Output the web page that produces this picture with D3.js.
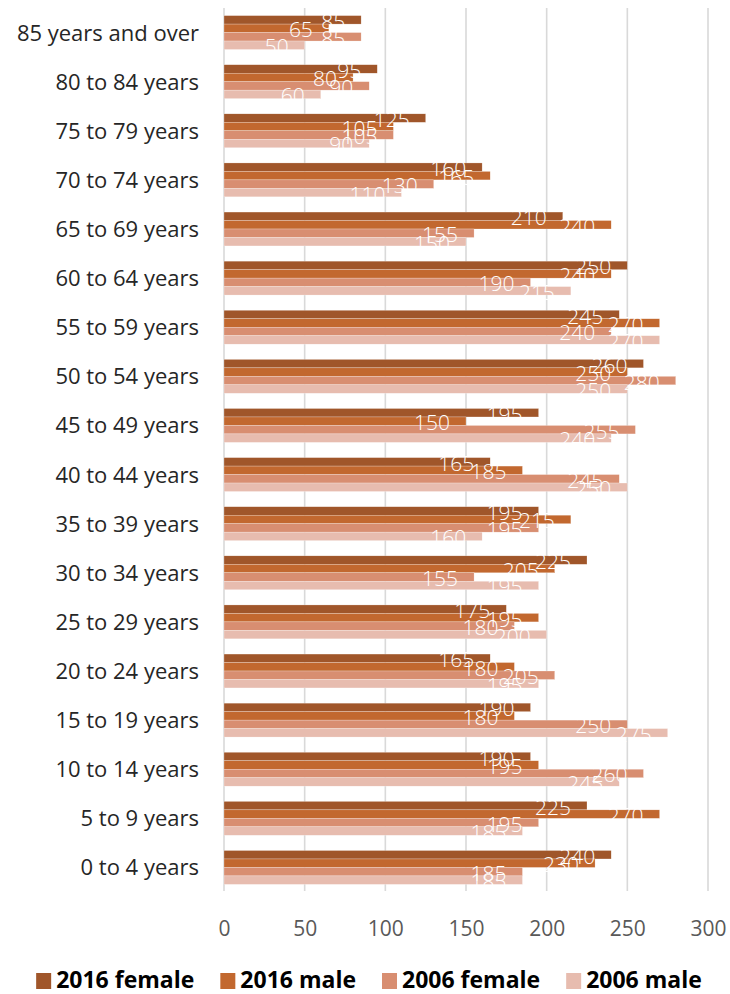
<!DOCTYPE html>
<html>
<head>
<meta charset="utf-8">
<script src="https://cdn.jsdelivr.net/npm/d3@7"></script>
<style>
  body { margin: 0; background: #ffffff; }
  svg { display: block; font-family: "Open Sans", "Noto Sans", sans-serif; }
</style>
</head>
<body>
<div class="chart"></div>
<script>
var w = 730;
var h = 994;

// age groups, top to bottom
var ages = ["85 years and over", "80 to 84 years", "75 to 79 years", "70 to 74 years",
  "65 to 69 years", "60 to 64 years", "55 to 59 years", "50 to 54 years",
  "45 to 49 years", "40 to 44 years", "35 to 39 years", "30 to 34 years",
  "25 to 29 years", "20 to 24 years", "15 to 19 years", "10 to 14 years",
  "5 to 9 years", "0 to 4 years"];

var seriesNames = ["2016 female", "2016 male", "2006 female", "2006 male"];
var seriesColors = ["#a0562a", "#c2682f", "#d88e71", "#e7bcaf"];

var female2016 = [85, 95, 125, 160, 210, 250, 245, 260, 195, 165, 195, 225, 175, 165, 190, 190, 225, 240];
var male2016   = [65, 80, 105, 165, 240, 240, 270, 250, 150, 185, 215, 205, 195, 180, 180, 195, 270, 230];
var female2006 = [85, 90, 105, 130, 155, 190, 240, 280, 255, 245, 195, 155, 180, 205, 250, 260, 195, 185];
var male2006   = [50, 60, 90, 110, 150, 215, 270, 250, 240, 250, 160, 195, 200, 195, 275, 245, 185, 185];

var xTicks = [0, 50, 100, 150, 200, 250, 300];

var seriesValues = [female2016, male2016, female2006, male2006];

var svg = d3.select(".chart")
  .append("svg")
  .attr("width", w)
  .attr("height", h);

var x = d3.scaleLinear()
  .domain([0, 300])
  .range([224, 708]);

var y0 = d3.scaleBand()
  .domain(ages)
  .range([8, 892])
  .paddingInner(0.31)
  .paddingOuter(0.155);

var y1 = d3.scaleBand()
  .domain(seriesNames)
  .range([0, y0.bandwidth()]);

// gridlines
svg.append("g")
  .selectAll("line")
  .data(xTicks)
  .join("line")
  .attr("x1", d => x(d))
  .attr("x2", d => x(d))
  .attr("y1", 8)
  .attr("y2", 891)
  .attr("stroke", "#d9d9d9")
  .attr("stroke-width", 1.6);

// bars
var groups = svg.append("g")
  .selectAll("g")
  .data(ages)
  .join("g")
  .attr("transform", d => "translate(0," + y0(d) + ")");

groups.selectAll("rect")
  .data((d, i) => seriesNames.map((s, j) => ({ s: s, v: seriesValues[j][i], c: seriesColors[j] })))
  .join("rect")
  .attr("x", x(0))
  .attr("y", d => y1(d.s))
  .attr("width", d => x(d.v) - x(0))
  .attr("height", y1.bandwidth())
  .attr("fill", d => d.c)
  .attr("stroke", "#ffffff")
  .attr("stroke-width", 0.4)
  .attr("stroke-opacity", 0.6);

// value labels, drawn after all bars
var labelLayer = svg.append("g");
ages.forEach(function(a, i) {
  seriesNames.forEach(function(s, j) {
    var v = seriesValues[j][i];
    labelLayer.append("text")
      .attr("x", x(v) - 16)
      .attr("y", y0(a) + y1(s) + y1.bandwidth() / 2 + 9)
      .attr("text-anchor", "end")
      .attr("font-size", "21px")
      .attr("font-weight", 300)
      .attr("fill", "#ffffff")
      .text(v);
  });
});

// category labels
svg.append("g")
  .selectAll("text")
  .data(ages)
  .join("text")
  .attr("x", 199)
  .attr("y", d => y0(d) + y0.bandwidth() / 2 + 8)
  .attr("text-anchor", "end")
  .attr("font-size", "22px")
  .attr("fill", "#262626")
  .text(d => d);

// x axis tick labels
var xAxis = svg.append("g")
  .attr("transform", "translate(0,891)")
  .call(d3.axisBottom(x).tickValues(xTicks).tickSize(0).tickPadding(0));
xAxis.select(".domain").remove();
xAxis.selectAll("text")
  .attr("y", 45)
  .attr("dy", null)
  .attr("font-family", "\"Open Sans\", sans-serif")
  .attr("font-size", "21px")
  .attr("fill", "#595959");

// legend
var legend = svg.append("g");
var items = legend.selectAll("g")
  .data(seriesNames)
  .join("g");
items.append("rect")
  .attr("width", 15)
  .attr("height", 16)
  .attr("y", 973)
  .attr("fill", (d, i) => seriesColors[i]);
items.append("text")
  .attr("x", 20)
  .attr("y", 988)
  .attr("font-size", "23px")
  .attr("font-weight", "bold")
  .attr("fill", "#000000")
  .text(d => d);

var widths = [];
items.selectAll("text").each(function() { widths.push(this.getComputedTextLength()); });
var total = d3.sum(widths) + widths.length * 20 + (widths.length - 1) * 26;
var pos = (w - total) / 2 + 4;
items.attr("transform", function(d, i) {
  var t = "translate(" + pos + ",0)";
  pos += 20 + widths[i] + 26;
  return t;
});
</script>
</body>
</html>
